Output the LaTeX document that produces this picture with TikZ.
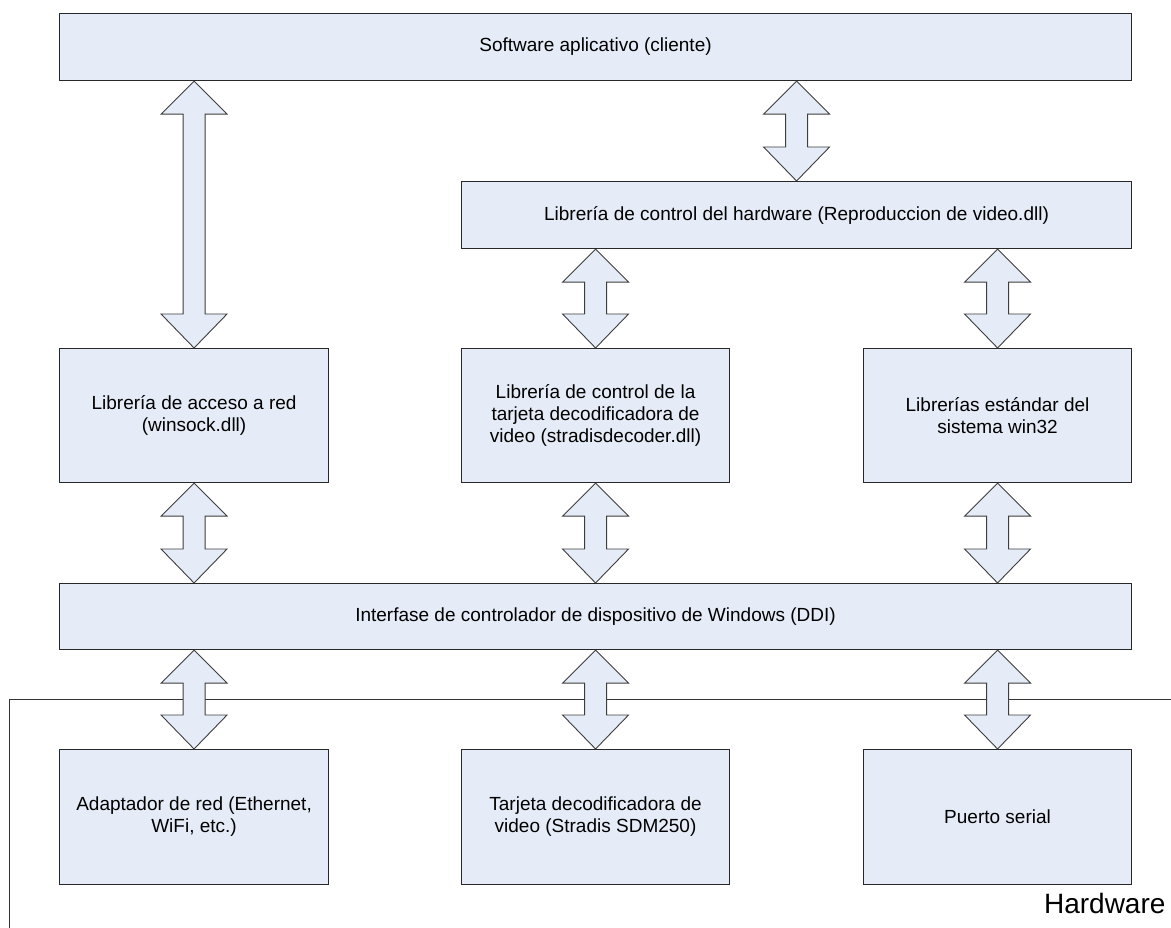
\documentclass[tikz,border=0pt]{standalone}
\usepackage{fontspec}
\setmainfont{Liberation Sans}
\usetikzlibrary{calc}
\definecolor{boxfill}{RGB}{230,236,247}
\definecolor{boxline}{RGB}{40,40,40}
\tikzset{
  box/.style={draw=boxline, fill=boxfill, line width=1.1pt, inner sep=0pt,
    anchor=north west, align=center, font=\fontsize{19}{22}\selectfont},
  bigarrow/.style={draw=boxline!90, fill=boxfill, line width=0.9pt, line join=miter},
  frame/.style={draw=black!80, line width=0.9pt}
}
% double-headed block arrow from the bottom of one node to the top of another
\newcommand\blockarrow[2]{%
  \path[bigarrow] let \p1=(#1), \p2=(#2) in
    (\x1,\y1) -- (\x1+33pt,\y1-33pt) -- (\x1+11pt,\y1-33pt) -- (\x1+11pt,\y2+34pt)
    -- (\x1+33pt,\y2+34pt) -- (\x1,\y2) -- (\x1-33pt,\y2+34pt) -- (\x1-11pt,\y2+34pt)
    -- (\x1-11pt,\y1-33pt) -- (\x1-33pt,\y1-33pt) -- cycle;}
\begin{document}
\begin{tikzpicture}[x=1pt,y=-1pt]
\useasboundingbox (0,0) rectangle (1171,928);

% hardware boundary
\coordinate (hwL) at (9,928);
\coordinate (hwR) at (1171,699);
\draw[frame] (hwL) |- (hwR);
\node[anchor=base east, font=\fontsize{28}{32}\selectfont] (hwlabel) at (1169,913) {Hardware};

% software layers
\node[box, minimum width=1072pt, minimum height=67pt] (top) at (59,13) {Software aplicativo (cliente)};
\node[box, minimum width=670pt, minimum height=67pt] (hw) at (461,181) {Librería de control del hardware (Reproduccion de video.dll)};

\node[box, minimum width=269pt, minimum height=134pt] (red) at (59,348) {Librería de acceso a red\\(winsock.dll)};
\node[box, minimum width=268pt, minimum height=134pt] (dec) at (461,348) {Librería de control de la\\tarjeta decodificadora de\\video (stradisdecoder.dll)};
\node[box, minimum width=268pt, minimum height=134pt] (std) at (863,348) {Librerías estándar del\\sistema win32};

\node[box, minimum width=1072pt, minimum height=66pt] (ddi) at (59,583) {Interfase de controlador de dispositivo de Windows (DDI)};

% devices
\node[box, minimum width=269pt, minimum height=135pt] (eth) at (59,749) {Adaptador de red (Ethernet,\\WiFi, etc.)};
\node[box, minimum width=268pt, minimum height=135pt] (sdm) at (461,749) {Tarjeta decodificadora de\\video (Stradis SDM250)};
\node[box, minimum width=268pt, minimum height=135pt] (ser) at (863,749) {Puerto serial};

% connections
\blockarrow{top.south -| red.north}{red.north}
\blockarrow{top.south -| hw.north}{hw.north}
\blockarrow{hw.south -| dec.north}{dec.north}
\blockarrow{hw.south -| std.north}{std.north}
\blockarrow{red.south}{ddi.north -| red.south}
\blockarrow{dec.south}{ddi.north -| dec.south}
\blockarrow{std.south}{ddi.north -| std.south}
\blockarrow{ddi.south -| eth.north}{eth.north}
\blockarrow{ddi.south -| sdm.north}{sdm.north}
\blockarrow{ddi.south -| ser.north}{ser.north}
\end{tikzpicture}
\end{document}
